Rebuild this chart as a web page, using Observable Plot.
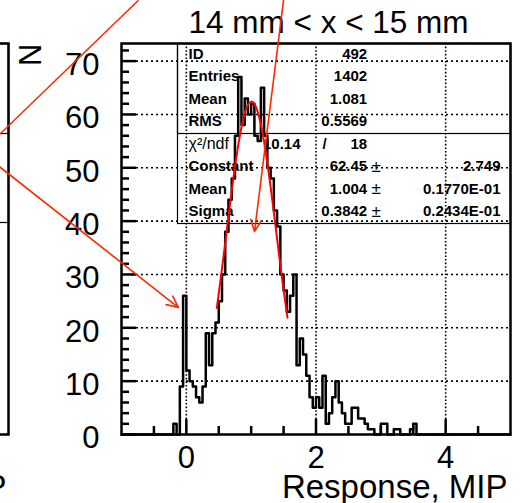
<!DOCTYPE html>
<html>
<head>
<meta charset="utf-8">
<script src="https://cdn.jsdelivr.net/npm/d3@7"></script>
<script src="https://cdn.jsdelivr.net/npm/@observablehq/plot@0.6"></script>
<style>
  html, body { margin: 0; padding: 0; background: #fff; }
  svg { display: block; }
</style>
</head>
<body>
<div id="chart"></div>
<script>
// ---------------- data ----------------
const title = "14 mm < x < 15 mm";
const xLabel = "Response, MIP";
const yLabel = "N";
const binStart = -0.2;
const binWidth = 0.05;
const counts = [
  2, 0, 9, 26,
  12, 10, 9, 7, 6, 9, 19, 13, 19, 21,
  25, 30, 38, 44, 48, 56, 67, 58, 63, 60,
  62, 56, 55, 65, 56, 50, 48, 42, 39, 30,
  27, 23, 26, 30, 13, 18, 15, 11, 7, 5,
  7, 5, 11, 2, 4, 7, 10, 6, 4, 2,
  2, 5, 5, 3, 3, 2, 1, 1, 0, 0,
  2, 2, 0, 0, 1, 1, 0, 0, 0, 1, 2
];
const fitX = [0.47, 0.55, 0.6, 0.65, 0.7, 0.75, 0.8, 0.85, 0.9, 0.95, 1.0, 1.05, 1.1, 1.15, 1.2, 1.25, 1.3, 1.35, 1.4, 1.45, 1.5, 1.56];
const fitY = [23.7, 31.1, 35.9, 40.9, 45.7, 50.2, 54.2, 57.6, 60.2, 61.8, 62.4, 62.0, 60.5, 58.1, 54.8, 50.9, 46.4, 41.6, 36.7, 31.8, 27.1, 21.9];
const xDomain = [-1, 5];
const yDomain = [0, 73.3];
const xMajorTicks = [0, 2, 4];
const xMinorTicks = [-0.5, 0.5, 1, 1.5, 2.5, 3, 3.5, 4.5];
const yMajorTicks = [0, 10, 20, 30, 40, 50, 60, 70];
const yMinorTicks = [2, 4, 6, 8, 12, 14, 16, 18, 22, 24, 26, 28, 32, 34, 36, 38, 42, 44, 46, 48, 52, 54, 56, 58, 62, 64, 66, 68, 72];
const xGrid = [0, 2, 4];
const yGrid = [10, 20, 30, 40, 50, 60, 70];
const statLabels = ["ID", "Entries", "Mean", "RMS", "\u03C7\u00B2/ndf", "Constant", "Mean", "Sigma"];
const statValues = ["492", "1402", "1.081", "0.5569", "18", "62.45", "1.004", "0.3842"];
const chi2Value = "10.14";
const fitErrors = ["2.749", "0.1770E-01", "0.2434E-01"];
// annotation arrows (data units)
const arrowFrom = [[-3.175, 53.0], [1.499, 81.4]];
const arrowTo = [[-0.121, 23.8], [1.052, 38.06]];
const lineFrom = [[-0.738, 81.4]];
const lineTo = [[-3.175, 52.8]];

// ---------------- build ----------------
const W = 523, H = 503;
const mL = 121, mR = 13, mT = 43, mB = 69;
const plotW = W - mL - mR, plotH = H - mT - mB;
const font = "'Liberation Sans', Arial, Helvetica, sans-serif";
const red = "#ff2a00";

const hist = [{x: xDomain[0], y: 0}];
counts.forEach((c, i) => hist.push({x: binStart + i * binWidth, y: c}));
hist.push({x: binStart + counts.length * binWidth, y: 0});
hist.push({x: xDomain[1], y: 0});

const fit = fitX.map((x, i) => ({x, y: fitY[i]}));
const arrows = arrowFrom.map((f, i) => ({x1: f[0], y1: f[1], x2: arrowTo[i][0], y2: arrowTo[i][1]}));
const lines = lineFrom.map((f, i) => ({x1: f[0], y1: f[1], x2: lineTo[i][0], y2: lineTo[i][1]}));

const rowH = 22.45, row0 = 10.5;
const statFont = {fontSize: 15, fontWeight: "bold", fill: "black", lineAnchor: "middle"};
const statMarks = [];
statLabels.forEach((t, i) => {
  statMarks.push(Plot.text([t], {text: d => d, frameAnchor: "top-left", dx: 67, dy: row0 + rowH * i, textAnchor: "start",
    ...statFont, fontWeight: i === 4 ? "normal" : "bold", fontSize: i === 4 ? 16 : 15}));
  statMarks.push(Plot.text([statValues[i]], {text: d => d, frameAnchor: "top-left", dx: 245.7, dy: row0 + rowH * i, textAnchor: "end", ...statFont}));
});
statMarks.push(Plot.text([chi2Value], {text: d => d, frameAnchor: "top-left", dx: 179, dy: row0 + rowH * 4, textAnchor: "end", ...statFont}));
statMarks.push(Plot.text(["/"], {text: d => d, frameAnchor: "top-left", dx: 201, dy: row0 + rowH * 4, textAnchor: "start", ...statFont}));
fitErrors.forEach((t, j) => {
  statMarks.push(Plot.text(["\u00B1"], {text: d => d, frameAnchor: "top-left", dx: 250, dy: row0 + rowH * (5 + j), textAnchor: "start", ...statFont, fontWeight: "normal", fontSize: 17}));
  statMarks.push(Plot.text([t], {text: d => d, frameAnchor: "top-left", dx: 379, dy: row0 + rowH * (5 + j), textAnchor: "end", ...statFont}));
});

const chart = Plot.plot({
  width: W, height: H,
  marginLeft: mL, marginRight: mR, marginTop: mT, marginBottom: mB,
  x: {domain: xDomain},
  y: {domain: yDomain},
  style: {fontFamily: font, background: "white", overflow: "visible"},
  marks: [
    // grid
    Plot.ruleY(yGrid, {y: d => d, stroke: "black", strokeWidth: 1.6, strokeDasharray: "2,3"}),
    Plot.ruleX(xGrid, {x: d => d, stroke: "black", strokeWidth: 1.6, strokeDasharray: "1.6,2"}),
    // stat box
    Plot.frame({insetLeft: 56, insetBottom: 211, stroke: "black", strokeWidth: 1.2}),
    Plot.frame({insetLeft: 56, insetBottom: 301, stroke: "black", strokeWidth: 1.2}),
    ...statMarks,
    // histogram
    Plot.line(hist, {x: "x", y: "y", curve: "step-after", stroke: "black", strokeWidth: 2.5}),
    // fit
    Plot.line(fit, {x: "x", y: "y", curve: "natural", stroke: "#ff0000", strokeWidth: 2}),
    // frame & ticks
    Plot.frame({stroke: "black", strokeWidth: 2.5}),
    Plot.tickY(yMajorTicks, {y: d => d, insetRight: plotW - 15, stroke: "black", strokeWidth: 2.5}),
    Plot.tickY(yMinorTicks, {y: d => d, insetRight: plotW - 8, stroke: "black", strokeWidth: 2.5}),
    Plot.tickX(xMajorTicks, {x: d => d, insetTop: plotH - 15, stroke: "black", strokeWidth: 2.5}),
    Plot.tickX(xMinorTicks, {x: d => d, insetTop: plotH - 8, stroke: "black", strokeWidth: 2.5}),
    Plot.axisY({ticks: yMajorTicks, tickFormat: d => String(d), tickSize: 0, tickPadding: 22, fontSize: 31, dy: 4, label: null, fill: "black"}),
    Plot.axisX({ticks: xMajorTicks, tickFormat: d => String(d), tickSize: 0, tickPadding: 11, fontSize: 31, label: null, fill: "black"}),
    // labels
    Plot.text([xLabel], {text: d => d, frameAnchor: "bottom-right", dx: -3, dy: 53, textAnchor: "end", lineAnchor: "middle", fontSize: 33, fill: "black"}),
    Plot.text([title], {text: d => d, frameAnchor: "top-left", dx: 67, dy: -21, textAnchor: "start", lineAnchor: "middle", fontSize: 31.5, fill: "black"}),
    // neighbouring panel (cut off at left)
    Plot.frame({insetLeft: -150, insetRight: plotW + mL - 8, stroke: "black", strokeWidth: 2.5}),
    Plot.frame({insetLeft: -150, insetRight: plotW + mL - 8, insetBottom: 301, stroke: "black", strokeWidth: 1.2}),
    Plot.frame({insetLeft: -150, insetRight: plotW + mL - 8, insetBottom: 212, stroke: "black", strokeWidth: 1.2}),
    Plot.text([yLabel], {text: d => d, frameAnchor: "top-left", dx: 30.5 - mL, dy: 0, rotate: -90, textAnchor: "end", lineAnchor: "middle", fontSize: 31, fill: "black"}),
    Plot.text([xLabel], {text: d => d, frameAnchor: "bottom-left", dx: 6 - mL, dy: 53, textAnchor: "end", lineAnchor: "middle", fontSize: 33, fill: "black"}),
    // annotation arrows
    Plot.link(lines, {x1: "x1", y1: "y1", x2: "x2", y2: "y2", stroke: red, strokeWidth: 1.6}),
    Plot.arrow(arrows, {x1: "x1", y1: "y1", x2: "x2", y2: "y2", stroke: red, strokeWidth: 1.6, headLength: 12, headAngle: 50})
  ]
});
document.getElementById("chart").appendChild(chart);
</script>
</body>
</html>
